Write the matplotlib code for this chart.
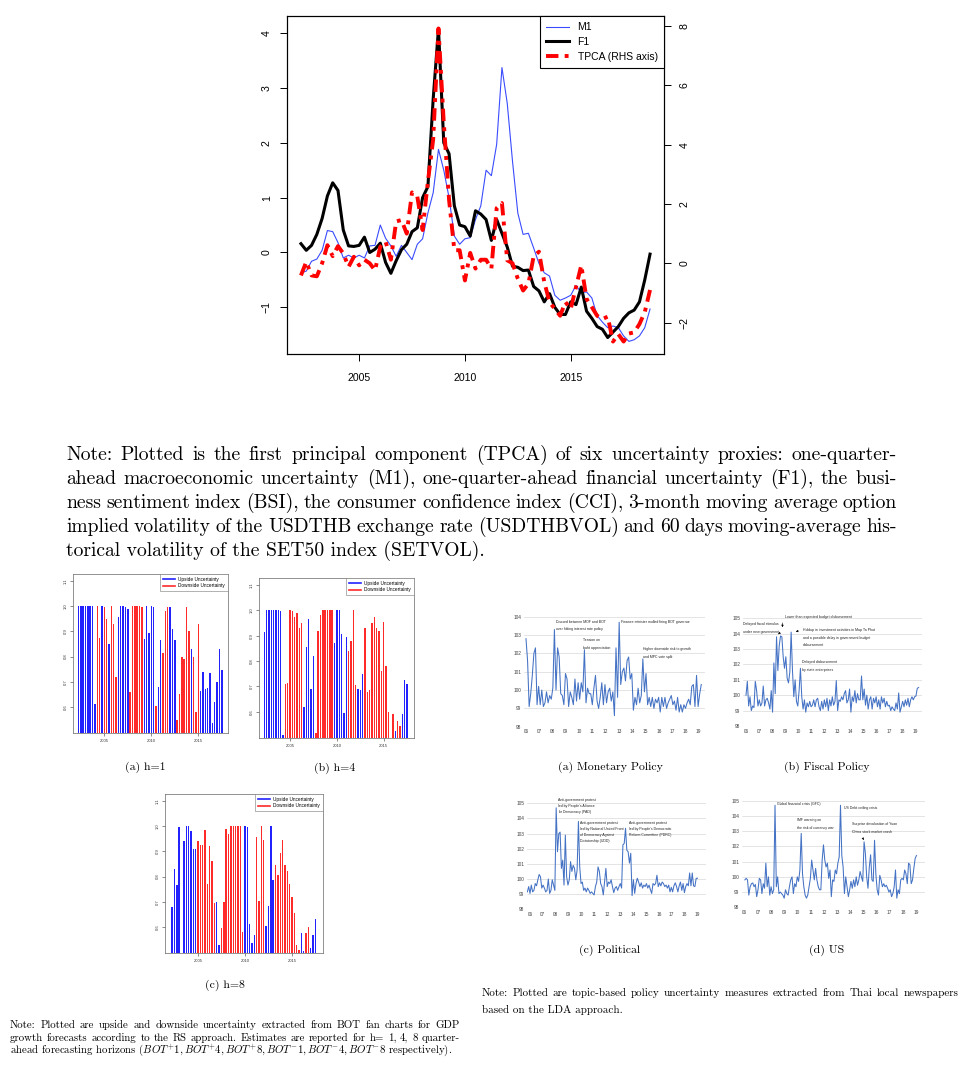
import matplotlib
matplotlib.use("Agg")
import matplotlib.pyplot as plt
import numpy as np
from matplotlib.lines import Line2D
from matplotlib.patches import FancyArrowPatch

# ---- main chart: quarterly uncertainty indices, 2002Q2 - 2018Q4
quarters = 2002.25 + 0.25 * np.arange(67)
m1 = [-0.37, -0.34, -0.16, -0.12, 0.04, 0.40, 0.38, 0.18, -0.10, -0.05,
      -0.10, -0.05, -0.10, 0.12, 0.13, 0.50, 0.26, 0.12, -0.07, 0.13,
      0.00, -0.13, 0.15, 0.25, 0.72, 1.09, 1.88, 1.50, 1.00, 0.30,
      0.15, 0.25, 0.27, 0.60, 0.85, 1.50, 1.40, 1.97, 3.37, 2.72,
      1.66, 0.72, 0.33, 0.35, 0.08, -0.20, -0.37, -0.43, -0.78, -0.87,
      -0.83, -0.78, -0.60, -0.73, -0.72, -0.83, -1.15, -1.27, -1.37, -1.34,
      -1.37, -1.52, -1.62, -1.59, -1.52, -1.37, -1.03]
f1 = [0.16, 0.04, 0.13, 0.33, 0.62, 1.03, 1.27, 1.13, 0.41, 0.12,
      0.11, 0.13, 0.28, 0.00, 0.06, 0.17, -0.18, -0.38, -0.15, 0.05,
      0.15, 0.38, 0.45, 1.00, 1.20, 2.80, 4.08, 2.00, 1.80, 0.85,
      0.50, 0.47, 0.30, 0.76, 0.70, 0.60, 0.22, 0.60, 0.35, 0.10,
      -0.25, -0.27, -0.33, -0.32, -0.62, -0.70, -0.90, -0.75, -1.00, -1.13,
      -1.13, -0.90, -0.95, -0.63, -1.07, -1.20, -1.35, -1.40, -1.55, -1.45,
      -1.35, -1.20, -1.10, -1.05, -0.90, -0.50, -0.03]
tpca = [-0.41, 0.05, -0.41, -0.44, 0.00, 0.61, 0.24, 0.58, 0.33, -0.12,
        0.22, -0.07, 0.12, 0.00, -0.24, 0.56, 0.73, 0.12, 1.41, 1.46,
        1.00, 2.39, 2.25, 1.12, 2.76, 4.18, 7.92, 4.75, 2.14, 0.44,
        0.44, -0.58, 0.35, -0.18, 0.12, 0.12, -0.18, 1.86, 2.03, 0.10,
        0.00, -0.52, -0.92, -0.69, 0.24, 0.39, -0.63, -1.31, -1.54, -1.77,
        -1.31, -1.54, -0.80, -0.07, -1.20, -1.48, -1.77, -1.88, -1.80, -2.64,
        -2.39, -2.64, -2.37, -2.33, -2.05, -1.65, -0.90]

# ---- fan chart uncertainty (U = upside, D = downside), quarterly from 2002Q2
h1_vals = [1.0, 1.0, 1.0, 1.0, 1.0, 1.0, 1.0, 0.61, 1.0, 0.875,
           1.0, 0.997, 0.95, 0.85, 1.0, 0.93, 0.72, 0.955, 1.0, 1.0,
           0.995, 0.99, 0.66, 1.0, 1.0, 1.0, 1.0, 0.997, 0.87, 1.0,
           0.895, 1.0, 0.998, 0.605, 0.68, 0.865, 0.815, 0.98, 0.997, 0.997,
           0.91, 0.865, 0.55, 0.65, 0.80, 0.79, 0.995, 0.90, 0.83, 0.80,
           0.58, 0.93, 0.665, 0.74, 0.672, 0.675, 0.735, 0.535, 0.62, 0.70,
           0.83, 0.745]
h1_side = "UUUUUUUUDDUDDUDDDUUUUUDDDDDDUUUUUDUUDDDUUUDDDDDDUDDDUUUUUUUUUU"
h4_vals = [0.915, 1.0, 1.0, 1.0, 1.0, 1.0, 1.0, 0.998, 0.51,
           0.71, 0.715, 1.0, 0.997, 0.975, 0.99, 0.93, 0.95,
           0.62, 0.855, 0.965, 0.69, 0.82,
           0.515, 0.92, 0.98, 1.0, 1.0, 1.0, 1.0, 1.0,
           0.87, 1.0, 1.0, 0.905, 0.595, 0.895,
           0.84, 0.88, 1.0, 0.705,
           0.69, 0.685, 0.75,
           0.93, 0.68, 0.685, 0.95, 0.975, 0.93, 0.92, 0.76, 0.955, 0.78, 0.60, 0.45, 0.59,
           0.525, 0.565, 0.545, 0.59, 0.725, 0.71]
h4_side = "UUUUUUUUUDDDDDDDDUUUUUDDDDDDDDUUUUUUDDDDUUUDDDDDDDDDDDDDUDDUUU"
h8_vals = [0.68, 0.83, 0.765, 0.995, 0.45, 0.94, 1.0, 1.0, 0.98, 0.91, 0.91,
           0.94, 0.925, 0.925, 0.985, 0.77, 0.92, 0.86, 0.695,
           0.70, 0.53,
           0.595, 0.70, 0.99, 0.97, 1.0, 1.0, 1.0, 1.0, 1.0, 0.58,
           1.0, 0.998, 0.612, 0.535, 0.57,
           0.955, 0.705, 1.0, 0.945,
           0.605, 0.685, 1.0, 0.785,
           0.845, 0.805, 0.895, 0.945, 0.845, 0.82, 0.77, 0.72, 0.655, 0.53, 0.51,
           0.575, 0.505, 0.575, 0.60, 0.515, 0.57, 0.63]
h8_side = "UUUUUUUUUUUDDDDDDDDUUDDDDDDDDDDUUUUUDDDDUUUUDDDDDDDDDDDUUDDUUU"

# ---- topic-based policy uncertainty (newspapers)
monetary = [102.8, 101.6, 99.1, 99.8, 100.8, 102.0, 102.3, 99.2, 100.2, 99.2,
            100.0, 99.1, 99.3, 99.9, 99.3, 99.7, 99.5, 100.1, 103.3, 100.0,
            102.3, 101.8, 99.8, 99.7, 99.2, 100.9, 100.6, 99.1, 99.9, 99.6,
            99.2, 100.6, 99.4, 100.4, 99.5, 100.4, 99.9, 102.2, 99.3, 100.1,
            99.8, 99.8, 99.2, 100.1, 100.8, 99.4, 99.0, 99.6, 100.4, 99.2,
            100.3, 99.3, 99.9, 100.1, 99.4, 99.9, 98.6, 102.3, 99.6, 103.7,
            100.3, 101.0, 101.2, 100.5, 101.6, 101.8, 100.6, 100.9, 98.9, 99.6,
            99.2, 100.1, 99.3, 99.7, 101.7, 99.9, 100.9, 99.2, 99.6, 99.1,
            99.6, 99.0, 99.5, 99.3, 99.6, 98.8, 99.6, 99.1, 99.6, 99.0,
            99.3, 99.5, 99.7, 99.2, 99.4, 98.9, 99.6, 98.8, 99.2, 98.8,
            99.2, 99.0, 99.3, 99.5, 99.2, 100.2, 100.3, 99.1, 100.8, 99.1,
            99.8, 100.3]
fiscal = [100.0, 100.9, 99.3, 99.9, 99.0, 99.3, 99.2, 100.9, 100.3, 99.3,
          99.7, 99.3, 99.5, 100.6, 99.3, 99.7, 99.8, 99.5, 99.1, 100.3,
          98.9, 102.1, 100.1, 103.8, 101.6, 103.2, 103.85, 103.8, 102.5, 101.75,
          102.5, 101.1, 100.8, 101.5, 104.1, 101.6, 99.9, 101.0, 99.6, 99.3,
          100.3, 101.75, 99.9, 99.1, 99.7, 98.9, 99.5, 99.25, 99.6, 99.25,
          99.35, 99.7, 99.25, 99.7, 99.8, 99.25, 99.0, 99.6, 99.1, 99.7,
          99.25, 99.8, 99.0, 99.7, 99.3, 99.9, 99.35, 99.6, 100.95, 99.0,
          99.7, 99.6, 99.9, 99.7, 100.1, 100.3, 99.5, 99.7, 100.4, 98.9,
          99.9, 99.6, 100.3, 99.5, 100.1, 99.7, 99.7, 101.25, 99.7, 100.4,
          99.35, 100.0, 99.1, 99.7, 99.9, 99.1, 99.8, 99.5, 99.9, 99.25,
          99.7, 99.1, 99.9, 99.5, 99.8, 99.25, 99.6, 99.3, 99.35, 99.0,
          99.25, 99.1, 99.0, 99.5, 99.1, 100.15, 98.9, 99.25, 99.6, 99.25,
          99.7, 99.35, 99.8, 99.25, 99.7, 99.9, 99.7, 99.9, 99.95, 100.45,
          100.5]
political = [99.15, 99.5, 99.05, 99.6, 99.15, 99.25, 99.7, 99.55, 99.95, 100.3,
             100.15, 99.4, 99.6, 99.4, 99.15, 99.25, 100.0, 99.05, 99.25, 99.95,
             99.6, 99.25, 104.7, 101.8, 103.0, 103.1, 100.7, 101.25, 99.6, 102.9,
             100.15, 99.6, 99.95, 101.15, 100.5, 100.9, 100.7, 99.95, 100.6, 103.8,
             100.8, 99.7, 99.8, 99.25, 99.4, 99.15, 99.4, 99.25, 99.05, 99.15,
             99.05, 98.95, 99.5, 99.8, 100.8, 100.5, 99.7, 99.5, 98.95, 99.8,
             100.7, 99.5, 99.8, 99.7, 99.95, 99.5, 99.1, 99.4, 99.5, 99.25,
             99.5, 99.7, 99.4, 102.25, 102.35, 103.35, 101.9, 101.8, 101.05, 101.7,
             98.9, 99.95, 99.05, 99.7, 100.05, 99.8, 99.5, 99.75, 99.4, 99.6,
             99.5, 99.7, 99.4, 99.6, 99.3, 99.05, 99.7, 99.6, 99.7, 100.25,
             99.5, 99.75, 99.55, 99.8, 99.7, 99.5, 99.6, 99.4, 99.6, 99.15,
             99.45, 99.15, 99.55, 99.75, 99.5, 99.15, 99.55, 99.8, 99.25, 99.7,
             99.1, 99.5, 99.7, 99.55, 100.4, 99.55, 100.4, 99.55, 99.5, 100.05,
             100.05]
us = [99.8, 99.9, 99.8, 98.8, 99.35, 99.55, 99.6, 99.35, 99.5, 98.7,
      99.15, 99.9, 99.8, 98.9, 99.55, 99.25, 100.9, 99.35, 100.0, 98.8,
      99.35, 98.9, 99.15, 104.7, 99.35, 100.0, 98.9, 99.0, 98.9, 98.8,
      98.6, 99.15, 98.9, 98.8, 99.35, 99.8, 100.0, 98.9, 99.55, 99.35,
      100.0, 99.7, 100.45, 102.85, 100.2, 99.35, 98.8, 98.6, 98.8, 99.35,
      99.9, 101.1, 100.45, 99.8, 100.55, 99.8, 99.35, 99.15, 99.15, 101.1,
      102.1, 101.1, 100.65, 100.9, 99.9, 100.45, 98.7, 99.8, 99.7, 100.45,
      100.2, 100.9, 101.3, 104.7, 101.4, 100.65, 98.9, 100.0, 99.35, 98.7,
      99.15, 99.7, 99.25, 99.8, 99.35, 100.0, 99.45, 99.8, 100.35, 100.0,
      99.7, 102.3, 101.55, 100.0, 99.25, 100.65, 101.45, 99.8, 99.7, 102.4,
      100.2, 99.15, 98.8, 100.1, 99.8, 99.35, 99.55, 99.35, 99.45, 99.25,
      99.0, 99.15, 98.7, 98.9, 99.35, 100.45, 98.6, 99.15, 98.9, 99.8,
      99.9, 99.8, 100.45, 100.2, 99.55, 100.9, 100.8, 99.55, 99.8, 100.55,
      101.2, 101.4]
topic_years = [str(y)[2:] for y in range(2006, 2020)]

W, H = 960, 1084
SANS = ["Liberation Sans", "DejaVu Sans"]
SERIF = ["cmr10", "DejaVu Serif"]
plt.rcParams["font.family"] = SANS
plt.rcParams["mathtext.fontset"] = "cm"
plt.rcParams["axes.unicode_minus"] = True

fig = plt.figure(figsize=(W / 100, H / 100), dpi=100)
renderer = fig.canvas.get_renderer()


def px_axes(x0, y0, x1, y1):
    return fig.add_axes([x0 / W, 1 - y1 / H, (x1 - x0) / W, (y1 - y0) / H])


def px_text(x, y, s, **kw):
    return fig.text(x / W, 1 - y / H, s, **kw)


def text_width(s, size):
    t = fig.text(0, 0, s, fontsize=size, family=SERIF)
    w = t.get_window_extent(renderer).width
    t.remove()
    return w


def justify(lines, x0, x1, y0, step, slack=0.985):
    # font size chosen so the first (full) line fills the width with plain spaces
    size = 10 * (x1 - x0) * slack / text_width(lines[0], 10)
    for k, line in enumerate(lines):
        y = y0 + k * step
        if k == len(lines) - 1:
            px_text(x0, y, line, fontsize=size, family=SERIF, va="baseline")
            continue
        words = line.split()
        items = [px_text(0, y, w, fontsize=size, family=SERIF, va="baseline") for w in words]
        widths = [t.get_window_extent(renderer).width for t in items]
        gap = (x1 - x0 - sum(widths)) / (len(words) - 1)
        x = x0
        for t, w in zip(items, widths):
            t.set_x(x / W)
            x += w + gap


# ---------------- main chart
TPCA_LS = (0, (3.2, 1.6, 1, 1.6))
ax = px_axes(287, 16, 664, 354)
ax.plot(quarters, m1, color="#3a4cff", lw=0.8)
ax.plot(quarters, f1, color="black", lw=2.2)
ax.set_xlim(2001.59, 2019.41)
ax.set_ylim(-1.85, 4.31)
ax2 = ax.twinx()
ax2.plot(quarters, tpca, color="red", lw=2.8, ls=TPCA_LS)
ax2.set_ylim(-3.06, 8.34)
ax.set_xticks([2005, 2010, 2015])
ax.set_yticks(range(-1, 5))
ax2.set_yticks(range(-2, 9, 2))
for a in (ax, ax2):
    a.tick_params(direction="out", length=5, width=0.7, labelsize=7.6, pad=9)
    a.tick_params(axis="y", labelrotation=90, pad=6)
    for lab in a.get_yticklabels():
        lab.set_va("center")
    for s in a.spines.values():
        s.set_linewidth(0.8)
handles = [Line2D([], [], color="#3a4cff", lw=0.8),
           Line2D([], [], color="black", lw=2.2),
           Line2D([], [], color="red", lw=2.8, ls=TPCA_LS)]
leg = ax2.legend(handles, ["M1", "F1", "TPCA (RHS axis)"], loc="upper right",
                 borderaxespad=0, fancybox=False, edgecolor="black", framealpha=1,
                 fontsize=7.5, handlelength=2.2, handletextpad=0.8, borderpad=0.6,
                 labelspacing=0.45)
leg.get_frame().set_linewidth(0.8)

justify(["Note:  Plotted is the first principal component (TPCA) of six uncertainty proxies: one-quarter-",
         "ahead macroeconomic uncertainty (M1), one-quarter-ahead financial uncertainty (F1), the busi-",
         "ness sentiment index (BSI), the consumer confidence index (CCI), 3-month moving average option",
         "implied volatility of the USDTHB exchange rate (USDTHBVOL) and 60 days moving-average his-",
         "torical volatility of the SET50 index (SETVOL)."],
        66, 897, 460, 24)


# ---------------- fan chart bars
def bar_panel(rect, vals, sides, xlim, caption, cap_xy):
    a = px_axes(*rect)
    t = 2002.25 + 0.25 * np.arange(len(vals))
    colors = ["#2222ff" if s == "U" else "#ff2a2a" for s in sides]
    a.bar(t, vals, width=0.15, color=colors, linewidth=0)
    a.set_xlim(*xlim)
    a.set_ylim(0.497, 1.127)
    a.set_xticks([2005, 2010, 2015])
    a.set_yticks([0.6, 0.7, 0.8, 0.9, 1.0, 1.1])
    a.set_yticklabels(["0.6", "0.7", "0.8", "0.9", "1.0", "1.1"])
    a.tick_params(direction="out", length=2, width=0.4, labelsize=3, pad=2, colors="#333333")
    a.tick_params(axis="y", labelrotation=90)
    for lab in a.get_yticklabels():
        lab.set_va("center")
    for s in a.spines.values():
        s.set_linewidth(0.5)
        s.set_color("#666666")
    lg = a.legend([Line2D([], [], color="#2222ff", lw=1.2), Line2D([], [], color="#ff2a2a", lw=1.2)],
                  ["Upside Uncertainty", "Downside Uncertainty"], loc="upper right",
                  borderaxespad=0, fancybox=False, edgecolor="#777777", framealpha=1,
                  fontsize=3.4, handlelength=2.4, handletextpad=0.8, borderpad=0.6,
                  labelspacing=0.3)
    lg.get_frame().set_linewidth(0.4)
    px_text(cap_xy[0], cap_xy[1], caption, fontsize=8.5, family=SERIF, ha="center", va="center")


bar_panel((73, 574, 228, 733), h1_vals, h1_side, (2001.67, 2018.16), "(a) h=1", (145, 767))
bar_panel((259, 578, 414, 738), h4_vals, h4_side, (2001.68, 2018.24), "(b) h=4", (335, 768))
bar_panel((165, 794, 323, 953), h8_vals, h8_side, (2001.49, 2018.3), "(c) h=8", (225, 985))

justify(["Note:  Plotted are upside and downside uncertainty extracted from BOT fan charts for GDP",
         "growth forecasts according to the RS approach.  Estimates are reported for h= 1, 4, 8 quarter-",
         r"ahead forecasting horizons ($BOT^{+}1, BOT^{+}4, BOT^{+}8, BOT^{-}1, BOT^{-}4, BOT^{-}8$ respectively)."],
        10, 460, 1028.5, 12.5)


# ---------------- topic-based policy uncertainty
def topic_panel(rect, vals, start, end, xlim, ytop, caption, cap_xy, notes, step):
    a = px_axes(*rect)
    t = np.linspace(start, end, len(vals))
    a.plot(t, vals, color="#4472C4", lw=0.75)
    a.set_xlim(*xlim)
    a.set_ylim(98, ytop)
    a.set_yticks(range(98, ytop + 1))
    a.set_xticks(range(2006, 2020))
    a.set_xticklabels(topic_years)
    a.grid(axis="y", color="#d9d9d9", lw=0.5)
    a.set_axisbelow(True)
    a.tick_params(length=0, labelsize=3.4, pad=2, colors="#404040")
    for s in a.spines.values():
        s.set_visible(False)
    for x, y, s in notes:
        for k, line in enumerate(s.split("\n")):
            px_text(x, y + k * step, line, fontsize=2.5, va="center", color="#222222")
    px_text(cap_xy[0], cap_xy[1], caption, fontsize=8.5, family=SERIF, ha="center", va="center")
    return a


topic_panel((524, 616.7, 705, 726.7), monetary, 2006.0, 2019.2, (2005.85, 2019.48), 104,
            "(a) Monetary Policy", (610, 767),
            [(556, 621.7, "Discord between MOF and BOT\nover hiking interest rate policy"),
             (583, 640, "Tension on\nbaht appreciation"),
             (620.7, 621.7, "Finance minister mulled firing BOT governor"),
             (642.7, 649, "Higher downside risk to growth\nand MPC vote split")], 7.6)
topic_panel((743, 618.3, 922, 726), fiscal, 2006.0, 2019.23, (2005.77, 2019.49), 105,
            "(b) Fiscal Policy", (827, 767),
            [(743.3, 624, "Delayed fiscal stimulus\nunder new government"),
             (785, 617.3, "Lower than expected budget disbursement"),
             (802.7, 630, "Holdup in investment activities in Map Ta Phut\nand a possible delay in government budget\ndisbursement"),
             (801.7, 662.3, "Delayed disbursement\nby state enterprises")], 7.6)
topic_panel((527, 803.3, 706, 909.3), political, 2005.8, 2019.0, (2005.77, 2019.66), 105,
            "(c) Political", (610, 950),
            [(558.3, 800, "Anti-government protest\nled by People's Alliance\nfor Democracy (PAD)"),
             (580, 822.7, "Anti-government protest\nled by National United Front\nof Democracy Against\nDictatorship (UDD)"),
             (629, 823, "Anti-government protest\nled by People's Democratic\nReform Committee (PDRC)")], 6)
topic_panel((742, 800.7, 925, 907.3), us, 2006.0, 2019.03, (2005.78, 2019.68), 105,
            "(d) US", (827, 950),
            [(777.3, 804, "Global financial crisis (GFC)"),
             (796.7, 820, "IMF warning on\nthe risk of currency war"),
             (844, 807.7, "US Debt ceiling crisis"),
             (851.7, 824.3, "Surprise devaluation of Yuan\nChina stock market crash")], 8)

# little pointer arrows next to the annotations
for (xa, ya), (xb, yb) in [((781, 632), (776, 636)), ((783, 620), (782, 630)),
                           ((801, 630.5), (793, 632)), ((861.7, 837), (866, 842))]:
    fig.add_artist(FancyArrowPatch((xa / W, 1 - ya / H), (xb / W, 1 - yb / H),
                                   transform=fig.transFigure, arrowstyle="-|>",
                                   lw=0.4, color="black", mutation_scale=3))

justify(["Note: Plotted are topic-based policy uncertainty measures extracted from Thai local newspapers",
         "based on the LDA approach."],
        482, 958, 996.5, 16.5)

fig.savefig("out.png", dpi=100)
